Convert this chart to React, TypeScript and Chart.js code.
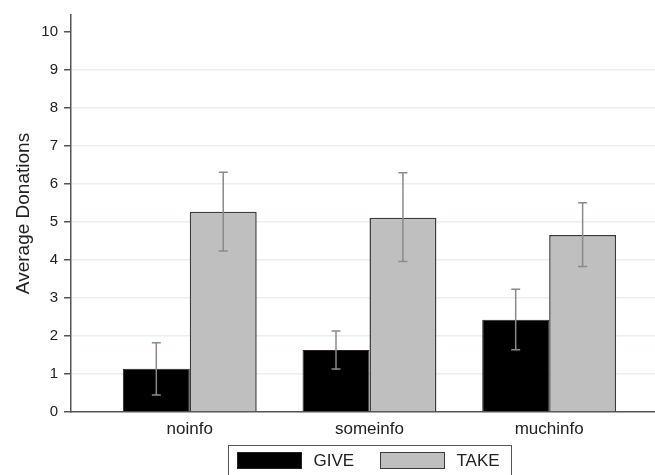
import React, { useEffect, useRef } from "react";
import { Chart, registerables } from "chart.js";

Chart.register(...registerables);

const categories = ["noinfo", "someinfo", "muchinfo"];
const seriesNames = ["GIVE", "TAKE"];
const giveMean = [1.14, 1.63, 2.43];
const giveLow = [0.45, 1.13, 1.64];
const giveHigh = [1.82, 2.13, 3.23];
const takeMean = [5.27, 5.11, 4.66];
const takeLow = [4.24, 3.96, 3.83];
const takeHigh = [6.31, 6.3, 5.51];
const yTicks = [0, 1, 2, 3, 4, 5, 6, 7, 8, 9, 10];

const FONT = "'Liberation Sans', Arial, sans-serif";

export default function App() {
  const ref = useRef<HTMLCanvasElement | null>(null);

  useEffect(() => {
    if (!ref.current) return;
    const lows = [giveLow, takeLow];
    const highs = [giveHigh, takeHigh];

    const errorBars = {
      id: "errorBars",
      afterDatasetsDraw(chart: any) {
        const ctx = chart.ctx;
        const ys = chart.scales.y;
        ctx.save();
        ctx.strokeStyle = "#8a8a8a";
        ctx.lineWidth = 1.5;
        chart.data.datasets.forEach((_ds: any, d: number) => {
          const meta = chart.getDatasetMeta(d);
          meta.data.forEach((el: any, i: number) => {
            const x = el.x;
            const yl = ys.getPixelForValue(lows[d][i]);
            const yh = ys.getPixelForValue(highs[d][i]);
            ctx.beginPath();
            ctx.moveTo(x, yl);
            ctx.lineTo(x, yh);
            ctx.moveTo(x - 4.5, yl);
            ctx.lineTo(x + 4.5, yl);
            ctx.moveTo(x - 4.5, yh);
            ctx.lineTo(x + 4.5, yh);
            ctx.stroke();
          });
        });
        ctx.restore();
      },
    };

    const boxLegend = {
      id: "boxLegend",
      afterDraw(chart: any) {
        const ctx = chart.ctx;
        const cx = chart.scales.x.getPixelForValue(2);
        const w = 283;
        const left = Math.round(cx - w / 2) + 0.5;
        const top = chart.chartArea.bottom + 33.5;
        ctx.save();
        ctx.strokeStyle = "#555";
        ctx.lineWidth = 1;
        ctx.strokeRect(left, top, w, 40);
        ctx.font = `17px ${FONT}`;
        ctx.textBaseline = "middle";
        chart.data.datasets.forEach((ds: any, d: number) => {
          const sx = left + 9 + d * 143;
          const sy = top + 7;
          ctx.fillStyle = ds.backgroundColor;
          ctx.fillRect(sx, sy, 64, 16);
          ctx.strokeStyle = ds.borderColor;
          ctx.lineWidth = 1;
          ctx.strokeRect(sx, sy, 64, 16);
          ctx.fillStyle = "#222";
          ctx.fillText(seriesNames[d], sx + 76, sy + 9);
        });
        ctx.restore();
      },
    };

    const chart = new Chart(ref.current, {
      type: "bar",
      data: {
        datasets: [
          {
            label: seriesNames[0],
            data: categories.map((_c, i) => ({ x: i + 1, y: giveMean[i] })),
            backgroundColor: "#000000",
            borderColor: "#222222",
            borderWidth: 1,
            categoryPercentage: 0.745,
            barPercentage: 1,
          },
          {
            label: seriesNames[1],
            data: categories.map((_c, i) => ({ x: i + 1, y: takeMean[i] })),
            backgroundColor: "#bfbfbf",
            borderColor: "#3a3a3a",
            borderWidth: 1.5,
            categoryPercentage: 0.745,
            barPercentage: 1,
          },
        ] as any,
      },
      options: {
        animation: false,
        responsive: false,
        maintainAspectRatio: false,
        layout: { padding: { top: 14, left: 0, right: 0, bottom: 0 } },
        plugins: {
          legend: { display: false },
          tooltip: { enabled: false },
        },
        scales: {
          x: {
            type: "linear",
            offset: false,
            bounds: "data",
            min: 0.339,
            max: 3.589,
            afterBuildTicks: (scale: any) => {
              scale.ticks = categories.map((_c, i) => ({ value: i + 1 }));
            },
            afterFit: (scale: any) => {
              scale.height = 63;
            },
            ticks: {
              callback: (v: any) => categories[Math.round(v) - 1] ?? "",
              font: { family: FONT, size: 17 },
              color: "#222",
              padding: 7,
              maxRotation: 0,
              autoSkip: false,
            },
            grid: { display: false, drawTicks: false, offset: false },
            border: { display: true, color: "#555", width: 1.5 },
          },
          y: {
            min: 0,
            max: 10.45,
            afterBuildTicks: (scale: any) => {
              scale.ticks = yTicks.map((v) => ({ value: v }));
            },
            afterFit: (scale: any) => {
              scale.width = 71;
            },
            ticks: {
              font: { family: FONT, size: 15 },
              color: "#222",
              padding: 6,
            },
            grid: {
              color: (c: any) =>
                c.tick && (c.tick.value === 0 || c.tick.value === 10)
                  ? "rgba(0,0,0,0)"
                  : "#e6eff1",
              lineWidth: 1.5,
              tickLength: 7,
              tickColor: "#555",
              drawTicks: true,
            },
            border: { display: true, color: "#555", width: 1.5 },
            title: {
              display: true,
              text: "Average Donations",
              font: { family: FONT, size: 19 },
              color: "#222",
              padding: { top: 12, bottom: 0 },
            },
          },
        },
      } as any,
      plugins: [errorBars, boxLegend],
    });
    return () => chart.destroy();
  }, []);

  return (
    <div style={{ position: "fixed", left: 0, top: 0, width: 655, height: 475, background: "#fff" }}>
      <canvas ref={ref} width={655} height={475} />
    </div>
  );
}
